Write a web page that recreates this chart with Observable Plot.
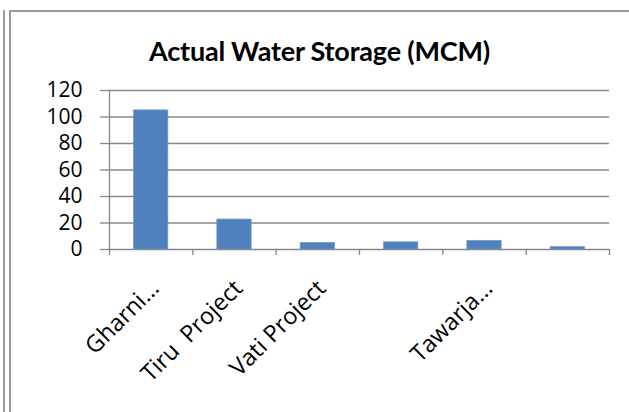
<!DOCTYPE html>
<html>
<head>
<meta charset="utf-8">
<script src="https://cdn.jsdelivr.net/npm/d3@7"></script>
<script src="https://cdn.jsdelivr.net/npm/@observablehq/plot@0.6"></script>
<style>
  html, body { margin: 0; padding: 0; background: #fff; }
  #wrap { position: relative; width: 629px; height: 412px; overflow: hidden; background: #fff; }
  .ln { position: absolute; background: #9a9a9a; }
  #title { position: absolute; left: 10px; width: 619px; top: 36px; text-align: center;
    font-family: Lato, "Open Sans", sans-serif; font-weight: 700; font-size: 27px; color: #000; line-height: 30px; letter-spacing: -0.2px; }
  #chart { position: absolute; left: 0; top: 75px; }
  #chart svg text { white-space: pre; }
</style>
</head>
<body>
<div id="wrap">
  <div class="ln" style="left:3px; top:10px; width:2px; height:402px;"></div>
  <div class="ln" style="left:9px; top:10px; width:2px; height:402px;"></div>
  <div class="ln" style="left:9px; top:10px; width:620px; height:2px;"></div>
  <div id="title">Actual Water Storage (MCM)</div>
  <div id="chart"></div>
</div>
<script>
const categories = ["Gharni…", "Tiru  Project", "Vati Project", "", "Tawarja…", ""];
const storage = [105, 22.6, 5, 5.4, 6.5, 1.8];
const yTicks = [0, 20, 40, 60, 80, 100, 120];

const data = categories.map((c, i) => ({i, label: c, value: storage[i]}));
const bounds = d3.range(categories.length + 1);
const gray = "#878787";

const chart = Plot.plot({
  width: 629,
  height: 337,
  marginTop: 15,
  marginBottom: 163,
  marginLeft: 109,
  marginRight: 20,
  style: {fontFamily: "'Open Sans', sans-serif", background: "transparent", overflow: "visible"},
  x: {type: "linear", domain: [0, categories.length], axis: null},
  y: {domain: [0, 120], axis: null},
  marks: [
    Plot.ruleY(yTicks, {y: d => d, x1: 0, x2: categories.length, stroke: gray, strokeWidth: 1.3}),
    Plot.ruleX([0], {y1: 0, y2: 120, stroke: gray, strokeWidth: 1.3}),
    Plot.axisY({ticks: yTicks, tickSize: 9, tickPadding: 18, fontSize: 21, fontFamily: "Open Sans", stroke: gray, strokeWidth: 1.3, fill: "#000", tickFormat: d => String(d)}),
    Plot.axisX({ticks: bounds, tickSize: 6, stroke: gray, strokeWidth: 1.3, tickFormat: () => ""}),
    Plot.rectY(data, {x1: d => d.i, x2: d => d.i + 1, y1: 0, y2: d => d.value, insetLeft: 24.5, insetRight: 24.5, fill: "#4f81bd", stroke: "#6f98cc", strokeWidth: 0.7}),
    Plot.text(data, {x: d => d.i + 0.5, y: 0, text: d => d.label, rotate: -45, textAnchor: "end", lineAnchor: "middle", dx: 4, dy: 35, fontSize: 23.5, fontFamily: "Open Sans", fill: "#000"})
  ]
});
d3.select(chart).attr("xml:space", "preserve").selectAll("text").style("white-space", "pre");
document.getElementById("chart").appendChild(chart);
</script>
</body>
</html>
